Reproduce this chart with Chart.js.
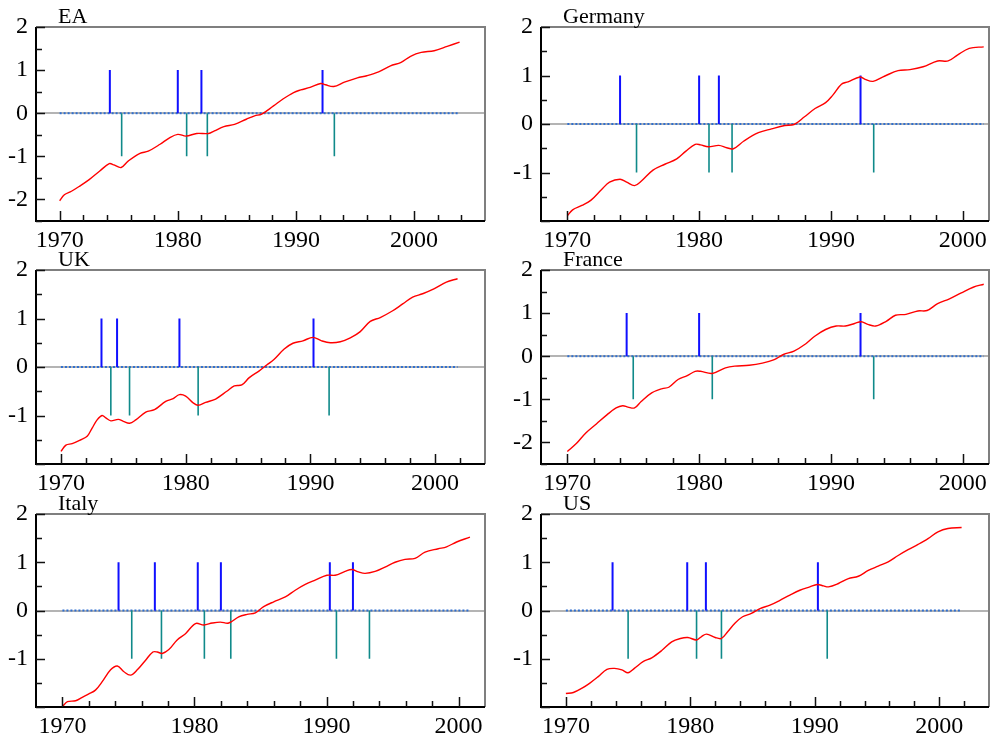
<!DOCTYPE html>
<html>
<head>
<meta charset="utf-8">
<script src="https://cdn.jsdelivr.net/npm/chart.js@4.4.1/dist/chart.umd.min.js"></script>
<style>
    html, body { margin: 0; padding: 0; background: #fff; overflow: hidden; }
    #wrap { position: relative; width: 990px; height: 738px; }
    #wrap canvas { position: absolute; }
</style>
</head>
<body>
<div id="wrap">
    <canvas id="ea"></canvas>
    <canvas id="de"></canvas>
    <canvas id="uk"></canvas>
    <canvas id="fr"></canvas>
    <canvas id="it"></canvas>
    <canvas id="us"></canvas>
</div>

<script>
    // tick labels
    const xTicks = [1970, 1980, 1990, 2000];
    const yTicks = [-2, -1, 0, 1, 2];

    // EA
    const eaYears = [1970, 1970.4, 1971, 1971.7, 1972.5, 1973.4, 1974.2, 1974.6, 1975.2, 1975.8, 1976.8, 1977.5, 1978.5, 1979.3, 1980.0, 1980.7, 1981.6, 1982.6, 1983.1, 1983.9, 1984.8, 1985.8, 1986.5, 1987.1, 1988.1, 1988.9, 1989.8, 1990.4, 1991.2, 1992.1, 1992.5, 1993.2, 1994.1, 1995.2, 1996.0, 1997.0, 1998.0, 1998.9, 1999.7, 2000.6, 2001.7, 2002.8, 2003.85];
    const eaValues = [-2.03, -1.89, -1.81, -1.69, -1.54, -1.34, -1.17, -1.2, -1.26, -1.11, -0.93, -0.88, -0.72, -0.57, -0.49, -0.53, -0.47, -0.47, -0.41, -0.31, -0.26, -0.14, -0.06, -0.02, 0.17, 0.33, 0.48, 0.54, 0.6, 0.69, 0.66, 0.62, 0.72, 0.82, 0.87, 0.96, 1.1, 1.18, 1.32, 1.41, 1.45, 1.55, 1.65];
    const eaPeaks = [1974.25, 1980.0, 1982.0, 1992.25];
    const eaTroughs = [1975.25, 1980.75, 1982.5, 1993.25];

    // Germany
    const deYears = [1970, 1970.4, 1971.1, 1971.8, 1972.6, 1973.2, 1974.0, 1974.5, 1975.1, 1975.6, 1976.5, 1977.4, 1978.3, 1979.0, 1979.7, 1980.1, 1980.7, 1981.5, 1982.1, 1982.6, 1983.4, 1984.5, 1985.5, 1986.5, 1987.2, 1988.0, 1988.8, 1989.6, 1990.1, 1990.8, 1991.3, 1992.2, 1992.6, 1993.2, 1994.1, 1995.1, 1996.0, 1997.0, 1998.1, 1998.9, 1999.6, 2000.5, 2001.6];
    const deValues = [-1.89, -1.77, -1.68, -1.57, -1.35, -1.2, -1.14, -1.2, -1.27, -1.18, -0.95, -0.83, -0.72, -0.56, -0.42, -0.43, -0.47, -0.44, -0.49, -0.51, -0.35, -0.18, -0.1, -0.03, -0.01, 0.15, 0.32, 0.44, 0.58, 0.82, 0.87, 0.97, 0.92, 0.88, 0.99, 1.1, 1.12, 1.18, 1.3, 1.3, 1.42, 1.56, 1.59];
    const dePeaks = [1974.0, 1980.0, 1981.5, 1992.25];
    const deTroughs = [1975.25, 1980.75, 1982.5, 1993.25];

    // UK
    const ukYears = [1970, 1970.4, 1970.9, 1971.6, 1972.1, 1972.5, 1972.9, 1973.3, 1973.6, 1974.0, 1974.6, 1975.0, 1975.5, 1976.0, 1976.8, 1977.5, 1978.4, 1979.0, 1979.5, 1980.0, 1980.6, 1981.0, 1981.6, 1982.4, 1983.3, 1983.9, 1984.5, 1985.1, 1985.9, 1986.5, 1987.1, 1987.9, 1988.6, 1989.4, 1990.2, 1990.9, 1991.6, 1992.4, 1993.2, 1994.0, 1994.8, 1995.6, 1996.6, 1997.4, 1998.2, 1999.0, 1999.9, 2000.9, 2001.8];
    const ukValues = [-1.74, -1.61, -1.58, -1.5, -1.43, -1.26, -1.09, -1.0, -1.05, -1.11, -1.08, -1.12, -1.16, -1.09, -0.93, -0.88, -0.71, -0.65, -0.57, -0.6, -0.74, -0.79, -0.73, -0.66, -0.5, -0.39, -0.37, -0.22, -0.08, 0.04, 0.16, 0.37, 0.49, 0.54, 0.61, 0.54, 0.5, 0.52, 0.6, 0.73, 0.94, 1.02, 1.16, 1.3, 1.44, 1.51, 1.61, 1.75, 1.82];
    const ukPeaks = [1973.25, 1974.5, 1979.5, 1990.25];
    const ukTroughs = [1974.0, 1975.5, 1981.0, 1991.5];

    // France
    const frYears = [1970, 1970.7, 1971.4, 1972.2, 1973.0, 1973.7, 1974.2, 1974.6, 1975.1, 1975.6, 1976.4, 1977.2, 1977.7, 1978.4, 1979.1, 1979.7, 1980.1, 1981.0, 1982.0, 1982.7, 1983.8, 1984.8, 1985.7, 1986.4, 1987.2, 1988.1, 1988.8, 1989.6, 1990.4, 1991.1, 1991.8, 1992.3, 1992.8, 1993.4, 1994.2, 1994.9, 1995.7, 1996.6, 1997.3, 1998.1, 1999.0, 1999.9, 2000.8, 2001.6];
    const frValues = [-2.21, -2.02, -1.78, -1.57, -1.36, -1.2, -1.15, -1.18, -1.2, -1.05, -0.85, -0.75, -0.72, -0.54, -0.45, -0.35, -0.35, -0.4, -0.27, -0.23, -0.21, -0.16, -0.08, 0.04, 0.12, 0.29, 0.47, 0.62, 0.7, 0.7, 0.76, 0.8, 0.74, 0.7, 0.81, 0.95, 0.97, 1.05, 1.06, 1.22, 1.33, 1.47, 1.6, 1.67];
    const frPeaks = [1974.5, 1980.0, 1992.25];
    const frTroughs = [1975.0, 1981.0, 1993.25];

    // Italy
    const itYears = [1970, 1970.38, 1971.0, 1971.5, 1972.0, 1972.5, 1973.0, 1973.65, 1974.16, 1974.66, 1975.16, 1975.67, 1976.3, 1976.85, 1977.18, 1977.56, 1978.06, 1978.69, 1979.32, 1980.08, 1980.71, 1981.34, 1981.96, 1982.59, 1983.35, 1983.98, 1984.61, 1985.24, 1986.0, 1986.88, 1987.63, 1988.39, 1989.14, 1990.03, 1990.65, 1991.41, 1991.91, 1992.42, 1992.92, 1993.68, 1994.43, 1995.19, 1995.94, 1996.7, 1997.46, 1998.46, 1999.09, 1999.85, 2000.86];
    const itValues = [-1.99, -1.89, -1.87, -1.8, -1.73, -1.65, -1.48, -1.23, -1.15, -1.27, -1.34, -1.23, -1.03, -0.86, -0.86, -0.89, -0.81, -0.61, -0.48, -0.27, -0.3, -0.26, -0.24, -0.26, -0.13, -0.08, -0.05, 0.08, 0.18, 0.28, 0.42, 0.54, 0.63, 0.73, 0.73, 0.81, 0.85, 0.8, 0.77, 0.81, 0.9, 1.0, 1.06, 1.08, 1.21, 1.28, 1.32, 1.42, 1.52];
    const itPeaks = [1974.25, 1977.0, 1980.25, 1982.0, 1990.25, 1992.0];
    const itTroughs = [1975.25, 1977.5, 1980.75, 1982.75, 1990.75, 1993.25];

    // US
    const usYears = [1970, 1970.6, 1971.3, 1971.9, 1972.6, 1973.3, 1973.9, 1974.5, 1975.0, 1975.5, 1976.2, 1976.9, 1977.7, 1978.5, 1979.2, 1979.8, 1980.5, 1980.9, 1981.3, 1982.0, 1982.5, 1983.0, 1983.6, 1984.2, 1984.9, 1985.6, 1986.4, 1987.2, 1988.0, 1988.8, 1989.6, 1990.2, 1990.7, 1991.1, 1991.9, 1992.7, 1993.5, 1994.3, 1995.1, 1995.9, 1996.7, 1997.5, 1998.3, 1999.1, 1999.9, 2000.7, 2001.8];
    const usValues = [-1.72, -1.7, -1.61, -1.51, -1.37, -1.22, -1.2, -1.23, -1.29, -1.2, -1.06, -0.98, -0.83, -0.65, -0.58, -0.56, -0.61, -0.54, -0.49, -0.56, -0.58, -0.44, -0.26, -0.13, -0.06, 0.04, 0.11, 0.21, 0.32, 0.42, 0.49, 0.54, 0.51, 0.49, 0.56, 0.66, 0.71, 0.83, 0.92, 1.01, 1.14, 1.26, 1.37, 1.49, 1.63, 1.7, 1.72];
    const usPeaks = [1973.75, 1979.75, 1981.25, 1990.25];
    const usTroughs = [1975.0, 1980.5, 1982.5, 1991.0];

    const SERIF = '"Liberation Serif", "DejaVu Serif", serif';

    // vertical spikes from 0 to +1 / -1, broken by null points
    function spikes(dates, level) {
        const pts = [];
        dates.forEach(d => {
            pts.push({x: d, y: 0}, {x: d, y: level}, {x: d, y: null});
        });
        return pts;
    }

    // frame, inward ticks and panel title
    function framePlugin(title) {
        return {
            id: 'frame',
            afterDatasetsDraw(chart) {
                const a = chart.chartArea;
                const xs = chart.scales.x;
                const ys = chart.scales.y;
                const ctx = chart.ctx;
                ctx.save();
                ctx.lineWidth = 2;
                ctx.strokeStyle = '#7f7f7f';
                ctx.beginPath();
                ctx.moveTo(a.left, a.top);
                ctx.lineTo(a.right, a.top);
                ctx.lineTo(a.right, a.bottom);
                ctx.stroke();
                ctx.strokeStyle = '#000';
                ctx.beginPath();
                ctx.moveTo(a.left, a.top);
                ctx.lineTo(a.left, a.bottom);
                ctx.lineTo(a.right, a.bottom);
                ctx.stroke();

                ctx.lineWidth = 1.5;
                ctx.strokeStyle = '#111';
                ctx.beginPath();
                for (let v = xTicks[0]; v < xs.max - 0.5; v += 2) {
                    const px = Math.round(xs.getPixelForValue(v)) + 0.5;
                    const len = (v % 10 === 0) ? 10 : 6;
                    ctx.moveTo(px, a.bottom);
                    ctx.lineTo(px, a.bottom - len);
                }
                for (let v = Math.ceil(ys.min * 2) / 2; v < ys.max + 0.01; v += 0.5) {
                    const py = Math.round(ys.getPixelForValue(v)) + 0.5;
                    const len = Number.isInteger(v) ? 9 : 6;
                    ctx.moveTo(a.left, py);
                    ctx.lineTo(a.left + len, py);
                }
                ctx.stroke();

                ctx.fillStyle = '#000';
                ctx.font = '22px ' + SERIF;
                ctx.textAlign = 'left';
                ctx.textBaseline = 'alphabetic';
                ctx.fillText(title, a.left + 22, a.top - 4);
                ctx.restore();
            }
        };
    }

    function makePanel(id, title, rect, xMax, yMin, years, values, peaks, troughs) {
        const canvas = document.getElementById(id);
        const w = rect.r - rect.l + 36 + 4;
        const h = rect.b - rect.t + 70;
        canvas.width = w;
        canvas.height = h;
        canvas.style.left = (rect.l - 36) + 'px';
        canvas.style.top = (rect.t - 30) + 'px';
        canvas.style.width = w + 'px';
        canvas.style.height = h + 'px';

        new Chart(canvas.getContext('2d'), {
            type: 'line',
            data: {
                datasets: [
                    {
                        data: years.map((yr, i) => ({x: yr, y: values[i]})),
                        borderColor: '#ff0000',
                        borderWidth: 1.4,
                        pointRadius: 0,
                        tension: 0.35
                    },
                    {
                        data: spikes(peaks, 1),
                        borderColor: '#1010ff',
                        borderWidth: 2,
                        pointRadius: 0,
                        spanGaps: false
                    },
                    {
                        data: spikes(troughs, -1),
                        borderColor: '#108a8a',
                        borderWidth: 1.6,
                        pointRadius: 0,
                        spanGaps: false
                    },
                    {
                        data: [{x: years[0], y: 0}, {x: years[years.length - 1], y: 0}],
                        borderColor: '#2f6fd0',
                        borderWidth: 2,
                        borderDash: [2, 2],
                        pointRadius: 0
                    }
                ]
            },
            options: {
                responsive: false,
                animation: false,
                devicePixelRatio: 1,
                layout: {padding: {left: 0, top: 30, right: 4, bottom: 0}},
                plugins: {
                    legend: {display: false},
                    tooltip: {enabled: false}
                },
                scales: {
                    x: {
                        type: 'linear',
                        min: 1968,
                        max: xMax,
                        afterBuildTicks: s => { s.ticks = xTicks.map(v => ({value: v})); },
                        afterFit: s => { s.height = 40; },
                        grid: {display: false},
                        border: {display: false},
                        ticks: {
                            font: {family: SERIF, size: 24},
                            color: '#000',
                            padding: -3,
                            maxRotation: 0,
                            autoSkip: false,
                            callback: v => String(v)
                        }
                    },
                    y: {
                        min: yMin,
                        max: 2,
                        afterBuildTicks: s => { s.ticks = yTicks.filter(v => v > yMin).map(v => ({value: v})); },
                        afterFit: s => { s.width = 36; },
                        grid: {
                            drawTicks: false,
                            lineWidth: 2,
                            color: c => (c.tick && c.tick.value === 0) ? '#b4b4b4' : 'rgba(0,0,0,0)'
                        },
                        border: {display: false},
                        ticks: {
                            font: {family: SERIF, size: 24},
                            color: '#000',
                            padding: 8,
                            callback: v => String(v)
                        }
                    }
                }
            },
            plugins: [framePlugin(title)]
        });
    }

    makePanel('ea', 'EA',      {l: 36,  t: 27,  r: 485, b: 221}, 2006, -2.5, eaYears, eaValues, eaPeaks, eaTroughs);
    makePanel('de', 'Germany', {l: 541, t: 27,  r: 989, b: 221}, 2002, -2,   deYears, deValues, dePeaks, deTroughs);
    makePanel('uk', 'UK',      {l: 36,  t: 270, r: 485, b: 464}, 2004, -2,   ukYears, ukValues, ukPeaks, ukTroughs);
    makePanel('fr', 'France',  {l: 541, t: 270, r: 989, b: 464}, 2002, -2.5, frYears, frValues, frPeaks, frTroughs);
    makePanel('it', 'Italy',   {l: 36,  t: 514, r: 485, b: 707}, 2002, -2,   itYears, itValues, itPeaks, itTroughs);
    makePanel('us', 'US',      {l: 541, t: 514, r: 989, b: 707}, 2004, -2,   usYears, usValues, usPeaks, usTroughs);
</script>
</body>
</html>
